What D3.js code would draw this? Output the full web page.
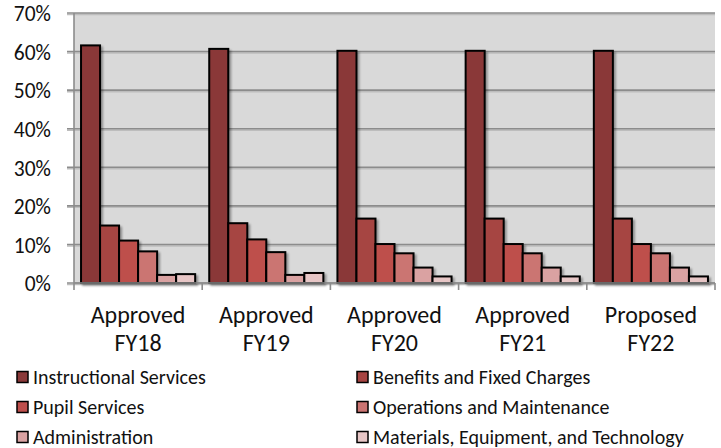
<!DOCTYPE html>
<html><head><meta charset="utf-8">
<script src="https://cdn.jsdelivr.net/npm/d3@7"></script>
<style>
html,body{margin:0;padding:0;background:#fff;}
svg{display:block;font-family:Carlito,Calibri,Lato,sans-serif;}
</style></head>
<body><svg id="c" width="721" height="448"></svg>
<script>
const categories = [["Approved","FY18"],["Approved","FY19"],["Approved","FY20"],["Approved","FY21"],["Proposed","FY22"]];
const seriesNames = ["Instructional Services","Benefits and Fixed Charges","Pupil Services","Operations and Maintenance","Administration","Materials, Equipment, and Technology"];
const instructional = [61.6, 60.7, 60.2, 60.2, 60.2];
const benefits      = [14.9, 15.5, 16.7, 16.7, 16.7];
const pupil         = [11.0, 11.3, 10.1, 10.1, 10.1];
const operations    = [8.2, 8.0, 7.7, 7.7, 7.7];
const administration= [2.1, 2.1, 4.0, 4.0, 4.0];
const materials     = [2.3, 2.6, 1.7, 1.7, 1.7];
const yTicks = [0,10,20,30,40,50,60,70];
const colors = ["#8A3939","#A64442","#BE4F4C","#CB7472","#DAA2A2","#E7C6C6"];

const series = [instructional, benefits, pupil, operations, administration, materials];
const svg = d3.select("#c");
const m = {l:74, t:13, r:715, b:283};
const x0 = d3.scaleBand().domain(d3.range(categories.length)).range([m.l, m.r]).paddingInner(0).paddingOuter(0);
const x1 = d3.scaleBand().domain(d3.range(series.length)).range([0, x0.bandwidth()]).paddingOuter(0.37).paddingInner(0);
const y = d3.scaleLinear().domain([0,70]).range([m.b, m.t]);

const defs = svg.append("defs");
const f = defs.append("filter").attr("id","sh").attr("x","-20%").attr("y","-20%").attr("width","150%").attr("height","150%");
f.append("feGaussianBlur").attr("in","SourceAlpha").attr("stdDeviation",1.2);
f.append("feOffset").attr("dx",2).attr("dy",1.5).attr("result","ob");
f.append("feComponentTransfer").append("feFuncA").attr("type","linear").attr("slope",0.35);
const mg = f.append("feMerge"); mg.append("feMergeNode"); mg.append("feMergeNode").attr("in","SourceGraphic");

svg.append("rect").attr("x",m.l).attr("y",m.t).attr("width",m.r-m.l).attr("height",m.b-m.t).attr("fill","#D9D9D9");

// gridlines
const g = svg.append("g");
yTicks.forEach(t=>{
  g.append("line").attr("x1",m.l-7).attr("x2",m.r).attr("y1",y(t)+1.5).attr("y2",y(t)+1.5).attr("stroke","#BDBDBD").attr("stroke-width",1.5);
  g.append("line").attr("x1",m.l-7).attr("x2",m.r).attr("y1",y(t)).attr("y2",y(t)).attr("stroke","#8C8C8C").attr("stroke-width",1.6);
});
svg.append("line").attr("x1",m.l).attr("x2",m.l).attr("y1",m.t).attr("y2",m.b).attr("stroke","#8C8C8C").attr("stroke-width",1.6);

// y labels
const yAxis = d3.axisLeft(y).tickValues(yTicks).tickFormat(d=>d+"%").tickSize(0).tickPadding(0);
const ya = svg.append("g").attr("transform",`translate(${m.l-23},0)`).call(yAxis);
ya.select(".domain").remove();
ya.selectAll("text").attr("font-size",21.5).attr("fill","#111").attr("font-family","Carlito,Calibri,Lato,sans-serif").attr("dy","0.36em");

// bars
const bars = svg.append("g").attr("filter","url(#sh)");
categories.forEach((c,i)=>{
  series.forEach((s,j)=>{
    bars.append("rect")
      .attr("x", x0(i)+x1(j)).attr("width", x1.bandwidth())
      .attr("y", y(s[i])).attr("height", y(0)-y(s[i]))
      .attr("fill", colors[j]).attr("stroke","#000").attr("stroke-width",2);
  });
});

// bottom axis line + ticks
svg.append("line").attr("x1",m.l).attr("x2",m.r).attr("y1",m.b).attr("y2",m.b).attr("stroke","#8C8C8C").attr("stroke-width",1.6);
d3.range(categories.length+1).forEach(i=>{
  const xx = i<categories.length ? x0(i) : m.r;
  svg.append("line").attr("x1",xx).attr("x2",xx).attr("y1",m.b).attr("y2",m.b+7).attr("stroke","#8C8C8C").attr("stroke-width",1.6);
});

// category labels
categories.forEach((c,i)=>{
  const t = svg.append("text").attr("x", x0(i)+x0.bandwidth()/2).attr("text-anchor","middle")
    .attr("font-size",24).attr("fill","#111");
  t.append("tspan").attr("x", x0(i)+x0.bandwidth()/2).attr("y",323).text(c[0]);
  t.append("tspan").attr("x", x0(i)+x0.bandwidth()/2).attr("y",351).text(c[1]);
});

// legend
const legX = [17, 357], legY = [377, 407, 437];
seriesNames.forEach((n,j)=>{
  const cx = legX[j%2], cy = legY[Math.floor(j/2)];
  svg.append("rect").attr("x",cx).attr("y",cy-5.5).attr("width",11).attr("height",11)
    .attr("fill",colors[j]).attr("stroke","#000").attr("stroke-width",1.5);
  svg.append("text").attr("x",cx+16).attr("y",cy).attr("dy","0.35em").attr("font-size",20).attr("fill","#111").text(n);
});
</script></body></html>
